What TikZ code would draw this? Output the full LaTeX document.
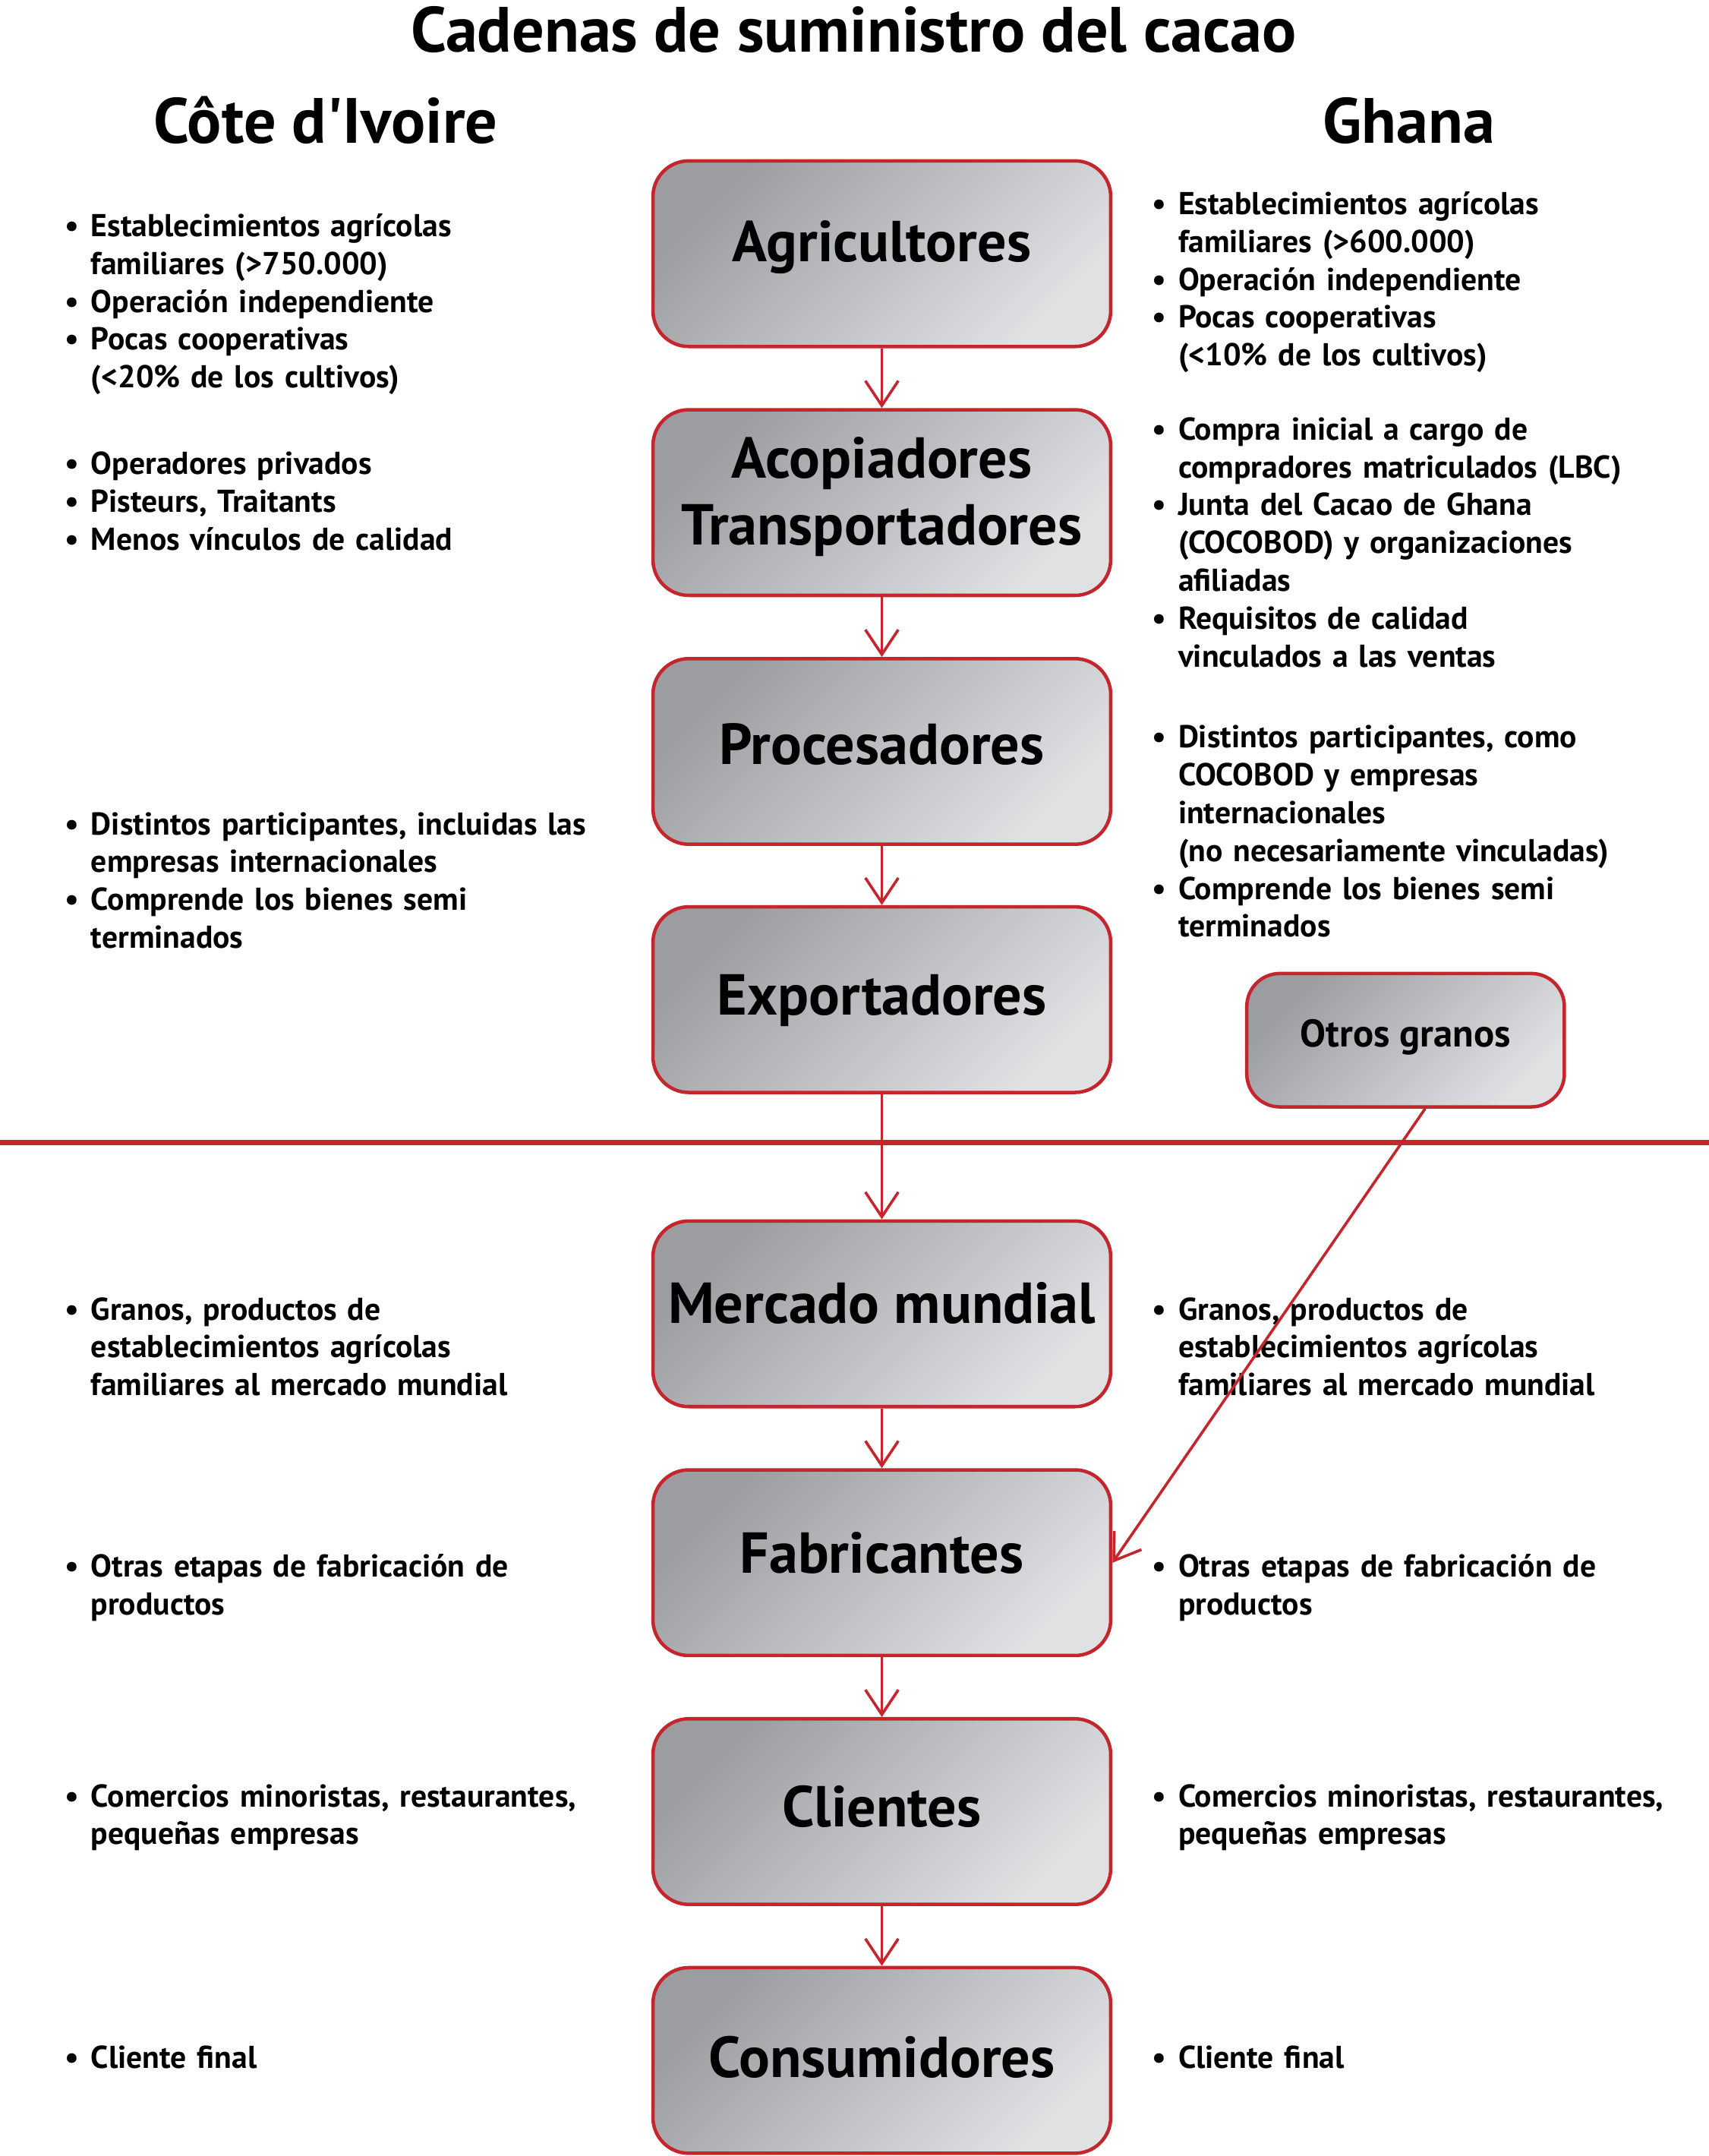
\documentclass[tikz,border=0pt]{standalone}
\usepackage{fontspec}
\setmainfont{PT Sans}[Ligatures=TeXOff]
\usetikzlibrary{arrows.meta}
\definecolor{cred}{HTML}{C4262E}
\definecolor{gdark}{HTML}{9C9DA1}
\definecolor{glight}{HTML}{E0E1E3}
\newcommand{\bfirst}[1]{\hangindent=19pt\hangafter=1\noindent\makebox[19pt][l]{\textbullet}#1}
\newcommand{\bitem}[1]{\par\bfirst{#1}}
\tikzset{
  stagebox/.style={rectangle, rounded corners=26pt, draw=cred, line width=2.5pt,
    top color=gdark, bottom color=glight, shading angle=45,
    minimum width=333pt, minimum height=135pt, align=center, inner sep=0pt,
    text height=30pt, text depth=#1,
    font=\bfseries\fontsize{42}{49}\selectfont},
  stagebox/.default=12pt,
  smallbox/.style={stagebox=10.4pt, text height=20pt, minimum width=231pt, minimum height=97pt,
    rounded corners=24pt, font=\bfseries\fontsize{28}{32}\selectfont},
  bulletblock/.style={anchor=base west, inner sep=0pt, text width=405pt,
    font=\bfseries\fontsize{23}{27.5}\selectfont},
  arr/.style={draw=cred, line width=2pt, -{Straight Barb[length=18pt,width=24pt,line width=2pt]}},
  heading/.style={anchor=base, inner sep=0pt, font=\bfseries\fontsize{46.5}{52}\selectfont}
}
\begin{document}
\begin{tikzpicture}[x=1pt,y=-1pt]
\useasboundingbox[fill=white] (0,0) rectangle (1243,1568);
% titles
\node[heading] (title) at (621,38) {Cadenas de suministro del cacao};
\node[heading] (civ) at (237,104) {Côte d'Ivoire};
\node[heading] (gha) at (1025,104) {Ghana};
% stage boxes
\node[stagebox=18pt] (agri) at (641.5,184.5) {Agricultores};
\node[stagebox=17pt, text height=79pt] (acop) at (641.5,365.5) {Acopiadores\\Transportadores};
\node[stagebox=11pt] (proc) at (641.5,546.5) {Procesadores};
\node[stagebox=8pt] (expo) at (641.5,727) {Exportadores};
\node[stagebox=16pt] (merc) at (641.5,955.5) {Mercado mundial};
\node[stagebox=15pt] (fab) at (641.5,1136.5) {Fabricantes};
\node[stagebox=8pt] (cli) at (641.5,1317.5) {Clientes};
\node[stagebox=5pt] (cons) at (641.5,1498.5) {Consumidores};
\node[smallbox] (otros) at (1022.5,756.5) {Otros granos};
% divider
\coordinate (divL) at (0,831);
\coordinate (divR) at (1243,831);
\draw[cred, line width=4pt] (divL) -- (divR);
% left texts
\node[bulletblock] (l1) at (47,172) {\raggedright\bfirst{Establecimientos agrícolas\newline familiares (>750.000)}\bitem{Operación independiente}\bitem{Pocas cooperativas\newline (<20\% de los cultivos)}\par};
\node[bulletblock] (l2) at (47,345) {\raggedright\bfirst{Operadores privados}\bitem{Pisteurs, Traitants}\bitem{Menos vínculos de calidad}\par};
\node[bulletblock] (l3) at (47,607) {\raggedright\bfirst{Distintos participantes, incluidas las\newline empresas internacionales}\bitem{Comprende los bienes semi\newline terminados}\par};
\node[bulletblock] (l4) at (47,960) {\raggedright\bfirst{Granos, productos de\newline establecimientos agrícolas\newline familiares al mercado mundial}\par};
\node[bulletblock] (l5) at (47,1147) {\raggedright\bfirst{Otras etapas de fabricación de\newline productos}\par};
\node[bulletblock] (l6) at (47,1314) {\raggedright\bfirst{Comercios minoristas, restaurantes,\newline pequeñas empresas}\par};
\node[bulletblock] (l7) at (47,1504) {\raggedright\bfirst{Cliente final}\par};
% right texts
\node[bulletblock] (r1) at (838,156) {\raggedright\bfirst{Establecimientos agrícolas\newline familiares (>600.000)}\bitem{Operación independiente}\bitem{Pocas cooperativas\newline (<10\% de los cultivos)}\par};
\node[bulletblock] (r2) at (838,320) {\raggedright\bfirst{Compra inicial a cargo de\newline compradores matriculados (LBC)}\bitem{Junta del Cacao de Ghana\newline (COCOBOD) y organizaciones\newline afiliadas}\bitem{Requisitos de calidad\newline vinculados a las ventas}\par};
\node[bulletblock] (r3) at (838,544) {\raggedright\bfirst{Distintos participantes, como\newline COCOBOD y empresas\newline internacionales\newline (no necesariamente vinculadas)}\bitem{Comprende los bienes semi\newline terminados}\par};
\node[bulletblock] (r4) at (838,960) {\raggedright\bfirst{Granos, productos de\newline establecimientos agrícolas\newline familiares al mercado mundial}\par};
\node[bulletblock] (r5) at (838,1147) {\raggedright\bfirst{Otras etapas de fabricación de\newline productos}\par};
\node[bulletblock] (r6) at (838,1314) {\raggedright\bfirst{Comercios minoristas, restaurantes,\newline pequeñas empresas}\par};
\node[bulletblock] (r7) at (838,1504) {\raggedright\bfirst{Cliente final}\par};
% connectors
\draw[arr] (agri) -- (acop);
\draw[arr] (acop) -- (proc);
\draw[arr] (proc) -- (expo);
\draw[arr] (expo) -- (merc);
\draw[arr] (merc) -- (fab);
\draw[arr] (fab) -- (cli);
\draw[arr] (cli) -- (cons);
\draw[arr] (otros.-74) -- (fab.east);
\end{tikzpicture}
\end{document}
